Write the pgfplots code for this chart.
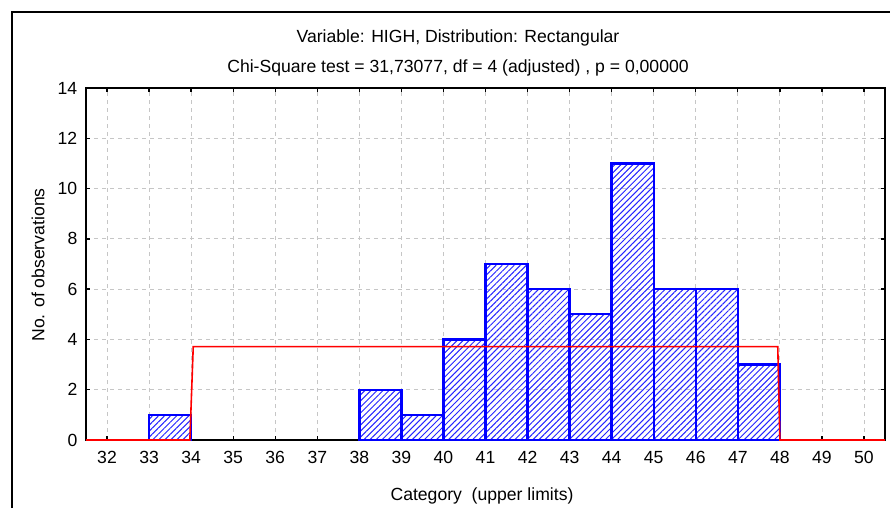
\documentclass[border=0pt]{standalone}
\usepackage{fontspec}
\setmainfont{Liberation Sans}
\usepackage{pgfplots}
\pgfplotsset{compat=1.18}
\usetikzlibrary{patterns.meta}
\begin{document}
\begin{tikzpicture}
\begin{scope}[x=0.75pt,y=0.75pt]
\fill[white] (0,0) rectangle (890,508);
\path[use as bounding box] (0,0) rectangle (890,508);
\draw[line width=1.1pt] (12,0) -- (12,496) -- (890,496);
\node[font=\fontsize{13.2}{15}\selectfont] at (458,470) {Variable: HIGH, Distribution: Rectangular};
\node[font=\fontsize{13.2}{15}\selectfont] at (458,440) {Chi-Square test = 31,73077, df = 4 (adjusted) , p = 0,00000};
\node[font=\fontsize{13.2}{15}\selectfont, rotate=90] at (38,243) {No. of observations};
\node[font=\fontsize{13.2}{15}\selectfont] at (482,12) {Category\ \ (upper limits)};
\end{scope}
\begin{axis}[at={(64.5pt,51pt)}, anchor=south west,
  width=599.25pt, height=264pt, scale only axis,
  xmin=31.5, xmax=50.5, ymin=0, ymax=14,
  xtick={32,...,50}, ytick={0,2,...,14},
  grid=major, grid style={gray!45, dashed, line width=0.6pt},
  tick align=inside, major tick length=3pt,
  axis line style={line width=1.4pt},
  tick style={black, line width=1pt},
  ticklabel style={font=\fontsize{13.2}{15}\selectfont},
  /pgf/number format/assume math mode=true,
  xticklabel style={yshift=-5pt},
  yticklabel style={xshift=-3pt},
  clip=false]
\addplot[ybar interval, draw=blue, line width=1.8pt,
  pattern={Lines[angle=45,distance=3.2pt,line width=0.75pt]}, pattern color=blue!85]
  coordinates {(33,1) (34,1)};
\addplot[ybar interval, draw=blue, line width=1.8pt,
  pattern={Lines[angle=45,distance=3.2pt,line width=0.75pt]}, pattern color=blue!85]
  coordinates {(38,2) (39,1) (40,4) (41,7) (42,6) (43,5) (44,11) (45,6) (46,6) (47,3) (48,3)};
\addplot[red, line width=1.2pt, mark=none] coordinates {
  (31.5,0) (33.97,0) (34.05,3.714) (47.95,3.714) (48.0,0) (50.5,0)};
\end{axis}
\end{tikzpicture}
\end{document}
